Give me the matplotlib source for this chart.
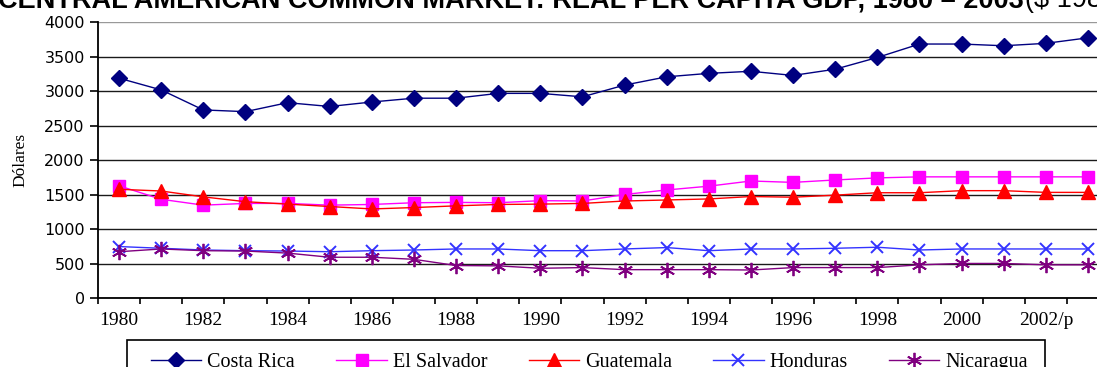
import numpy as np
import matplotlib.pyplot as plt
from matplotlib.patches import Rectangle

# Datos (dólares per cápita)
years = ["1980", "1981", "1982", "1983", "1984", "1985", "1986", "1987",
         "1988", "1989", "1990", "1991", "1992", "1993", "1994", "1995",
         "1996", "1997", "1998", "1999", "2000", "2001", "2002/p", "2003"]

costa_rica = [3190, 3020, 2730, 2705, 2835, 2780, 2845, 2900, 2900, 2970, 2970, 2920,
              3090, 3210, 3260, 3290, 3230, 3320, 3490, 3685, 3685, 3660, 3695, 3775]
el_salvador = [1630, 1435, 1350, 1375, 1375, 1350, 1360, 1385, 1390, 1385, 1415, 1410,
               1505, 1570, 1625, 1700, 1680, 1715, 1745, 1760, 1760, 1760, 1760, 1760]
guatemala = [1580, 1555, 1470, 1400, 1365, 1330, 1295, 1315, 1340, 1360, 1365, 1375,
             1410, 1425, 1440, 1475, 1465, 1495, 1530, 1530, 1560, 1560, 1535, 1535]
honduras = [750, 725, 700, 690, 685, 675, 690, 700, 715, 715, 690, 690,
            715, 735, 690, 715, 715, 725, 740, 700, 715, 715, 715, 715]
nicaragua = [675, 715, 690, 685, 655, 595, 595, 565, 475, 470, 435, 445,
             415, 415, 415, 410, 445, 445, 445, 485, 505, 505, 485, 485]

x = np.arange(len(years))

plt.rcParams['font.family'] = 'Liberation Serif'

W, H = 1097, 367
fig = plt.figure(figsize=(W / 100, H / 100), dpi=100)
ax = fig.add_axes([98 / W, 1 - 298.3 / H, (1109 - 98) / W, (298.3 - 22.3) / H])

ax.plot(x, costa_rica, color="#000080", marker="D", ms=8, lw=1.0, label="Costa Rica")
ax.plot(x, el_salvador, color="#FF00FF", marker="s", ms=8, lw=1.0, label="El Salvador")
ax.plot(x, guatemala, color="#FF0000", marker="^", ms=10, lw=1.0, label="Guatemala")
ax.plot(x, honduras, color="#3333FF", marker="x", ms=9, mew=1.4, lw=1.0, label="Honduras")
ax.plot(x, nicaragua, color="#800080", marker=(6, 2, 0), ms=11, mew=1.3, lw=1.0,
        label="Nicaragua")

ax.set_xlim(-0.5, len(years) - 0.5)
ax.set_ylim(0, 4000)
ax.set_yticks(np.arange(0, 4001, 500))
ax.yaxis.grid(True, color="#1a1a1a", lw=1.0)
ax.set_axisbelow(True)
ax.get_ygridlines()[-1].set_color("#999999")

ax.set_xticks(x[::2])
ax.set_xticklabels(years[::2])
ax.set_xticks(np.arange(-0.5, len(years), 1), minor=True)
ax.tick_params(axis="x", which="major", length=0, pad=10, labelsize=14)
ax.tick_params(axis="x", which="minor", length=4, width=1.2, direction="out")
ax.tick_params(axis="y", length=5.5, width=1.2, direction="out", pad=4, labelsize=11.5)
for lbl in ax.get_yticklabels():
    lbl.set_family("DejaVu Sans")

for s in ["top", "right"]:
    ax.spines[s].set_visible(False)
for s in ["left", "bottom"]:
    ax.spines[s].set_linewidth(1.3)

ax.set_ylabel("Dólares", fontsize=12.5)
ax.yaxis.set_label_coords((28 - 98) / (1109 - 98), 0.5)

# título cortado arriba
t1 = fig.text(-0.002, 1 - 7 / H, "CENTRAL AMERICAN COMMON MARKET: REAL PER CAPITA GDP, 1980 – 2003",
              family="Liberation Sans", weight="bold", fontsize=19.5, va="baseline")
fig.canvas.draw()
bb = t1.get_window_extent()
fig.text(bb.x1 / W + 0.001, 1 - 7 / H, "($ 1980)", family="Liberation Sans",
         fontsize=19.5, va="baseline")

# leyenda
handles, labels = ax.get_legend_handles_labels()
fig.legend(handles, labels, loc="upper left", bbox_to_anchor=(141 / W, 1 - 343 / H),
           ncol=5, frameon=False, borderpad=0, fontsize=14.5, handlelength=2.5,
           handletextpad=0.3, columnspacing=2.05)
fig.patches.append(Rectangle((127 / W, -0.2), (1045 - 127) / W, 0.2 + 1 - 340 / H,
                             transform=fig.transFigure, fill=False, ec="black", lw=1.2))

fig.savefig("out.png", dpi=100)
